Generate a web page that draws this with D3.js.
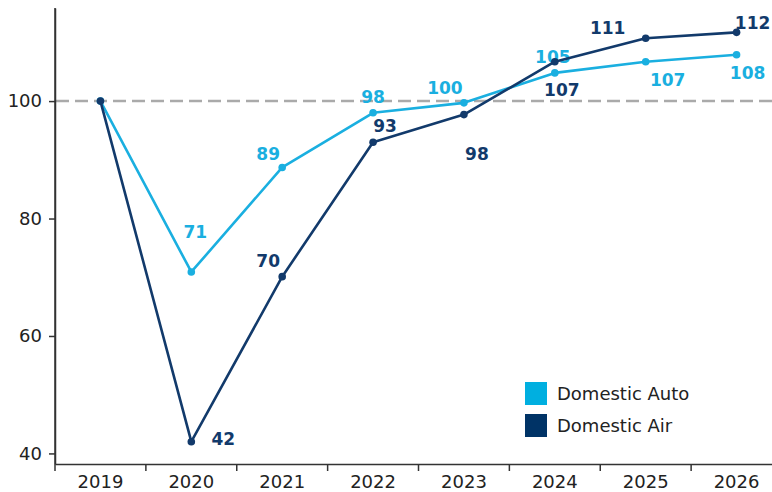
<!DOCTYPE html>
<html>
<head>
<meta charset="utf-8">
<script src="https://cdn.jsdelivr.net/npm/d3@7"></script>
<style>
  body { margin: 0; background: #fff; }
  svg { display: block; font-family: "DejaVu Sans", Verdana, sans-serif; }
</style>
</head>
<body>
<svg id="chart" width="772" height="492"></svg>
<script>
// chart data (index, 2019 = 100)
const years = ['2019', '2020', '2021', '2022', '2023', '2024', '2025', '2026'];
const domesticAuto = [100, 70.9, 88.7, 98, 99.7, 104.8, 106.7, 107.9];
const domesticAir = [100, 42, 70.1, 93, 97.7, 106.7, 110.7, 111.7];
const yTicks = [40, 60, 80, 100];
const seriesNames = ['Domestic Auto', 'Domestic Air'];

// label nudges (dx, dy) relative to each point
const autoLabelOffset = [null, [4, -40], [-14, -14], [0, -16], [-19, -15], [-2, -16], [22, 18], [11, 18]];
const airLabelOffset = [null, [32, -3], [-14, -16], [12, -16], [13, 39], [7, 28], [-38, -10], [16, -9]];

const autoColor = '#1aafe0', airColor = '#123a6b';
const autoKey = '#00afe0', airKey = '#003366';

let svg = d3.select('#chart');

let x = d3.scaleBand().domain(years).range([55, 782]);
let y = d3.scaleLinear().domain([38.2, 115.85]).range([464, 8]);

// reference line at 100
svg.append('line')
    .attr('x1', 56).attr('x2', 772)
    .attr('y1', y(100)).attr('y2', y(100))
    .attr('stroke', '#aaaaaa')
    .attr('stroke-width', 2.5)
    .attr('stroke-dasharray', '13,6');

function customYAxis(g) {
    g.call(d3.axisLeft(y).tickValues(yTicks).tickSize(6).tickPadding(7).tickSizeOuter(0));
    g.select('.domain').attr('stroke', '#333').attr('stroke-width', 1.5);
    g.selectAll('.tick line').attr('stroke', '#333').attr('stroke-width', 1.5);
    g.selectAll('.tick text').attr('fill', '#222').style('font-size', '18px')
        .style('font-family', '"DejaVu Sans", Verdana, sans-serif');
}

function customXAxis(g) {
    g.call(d3.axisBottom(x).tickSize(0).tickSizeOuter(0));
    g.select('.domain').attr('stroke', '#333').attr('stroke-width', 1.5);
    g.selectAll('.tick text').attr('fill', '#222').attr('y', 11).style('font-size', '18px')
        .style('font-family', '"DejaVu Sans", Verdana, sans-serif');
    // separators between bands
    g.selectAll('.sep')
        .data(years)
        .enter().append('line')
        .attr('class', 'sep')
        .attr('x1', d => x(d)).attr('x2', d => x(d))
        .attr('y1', 0).attr('y2', 7)
        .attr('stroke', '#333').attr('stroke-width', 1.5);
}

svg.append('g')
    .attr('transform', 'translate(55,0)')
    .call(customYAxis);

// extend y axis up to top
svg.append('line')
    .attr('x1', 55).attr('x2', 55).attr('y1', 8).attr('y2', 464)
    .attr('stroke', '#333').attr('stroke-width', 1.5);

svg.append('g')
    .attr('transform', 'translate(0,464)')
    .call(customXAxis);

let cx = i => x(years[i]) + x.bandwidth() / 2;

let line = d3.line()
    .x((d, i) => cx(i))
    .y(d => y(d));

function drawSeries(values, color, offsets) {
    svg.append('path')
        .datum(values)
        .attr('fill', 'none')
        .attr('stroke', color)
        .attr('stroke-width', 2.6)
        .attr('stroke-linejoin', 'round')
        .attr('d', line);

    svg.selectAll(null)
        .data(values)
        .enter().append('circle')
        .attr('cx', (d, i) => cx(i))
        .attr('cy', d => y(d))
        .attr('r', 3.8)
        .attr('fill', color);

    let labels = values.map((v, i) => ({v: v, i: i})).filter(d => offsets[d.i]);

    svg.selectAll(null)
        .data(labels)
        .enter().append('text')
        .attr('x', d => cx(d.i) + offsets[d.i][0])
        .attr('y', d => y(d.v) + offsets[d.i][1])
        .attr('dy', '0.36em')
        .attr('text-anchor', 'middle')
        .attr('fill', color)
        .style('font-size', '17px')
        .style('font-weight', 'bold')
        .text(d => Math.round(d.v));
}

drawSeries(domesticAuto, autoColor, autoLabelOffset);
drawSeries(domesticAir, airColor, airLabelOffset);

// legend
let legend = svg.append('g').attr('transform', 'translate(525,382)');
[autoKey, airKey].forEach(function(c, i) {
    legend.append('rect')
        .attr('x', 0).attr('y', i * 32)
        .attr('width', 22).attr('height', 23)
        .attr('fill', c);
    legend.append('text')
        .attr('x', 32).attr('y', i * 32 + 12)
        .attr('dy', '0.35em')
        .attr('fill', '#222')
        .style('font-size', '18px')
        .text(seriesNames[i]);
});
</script>
</body>
</html>
